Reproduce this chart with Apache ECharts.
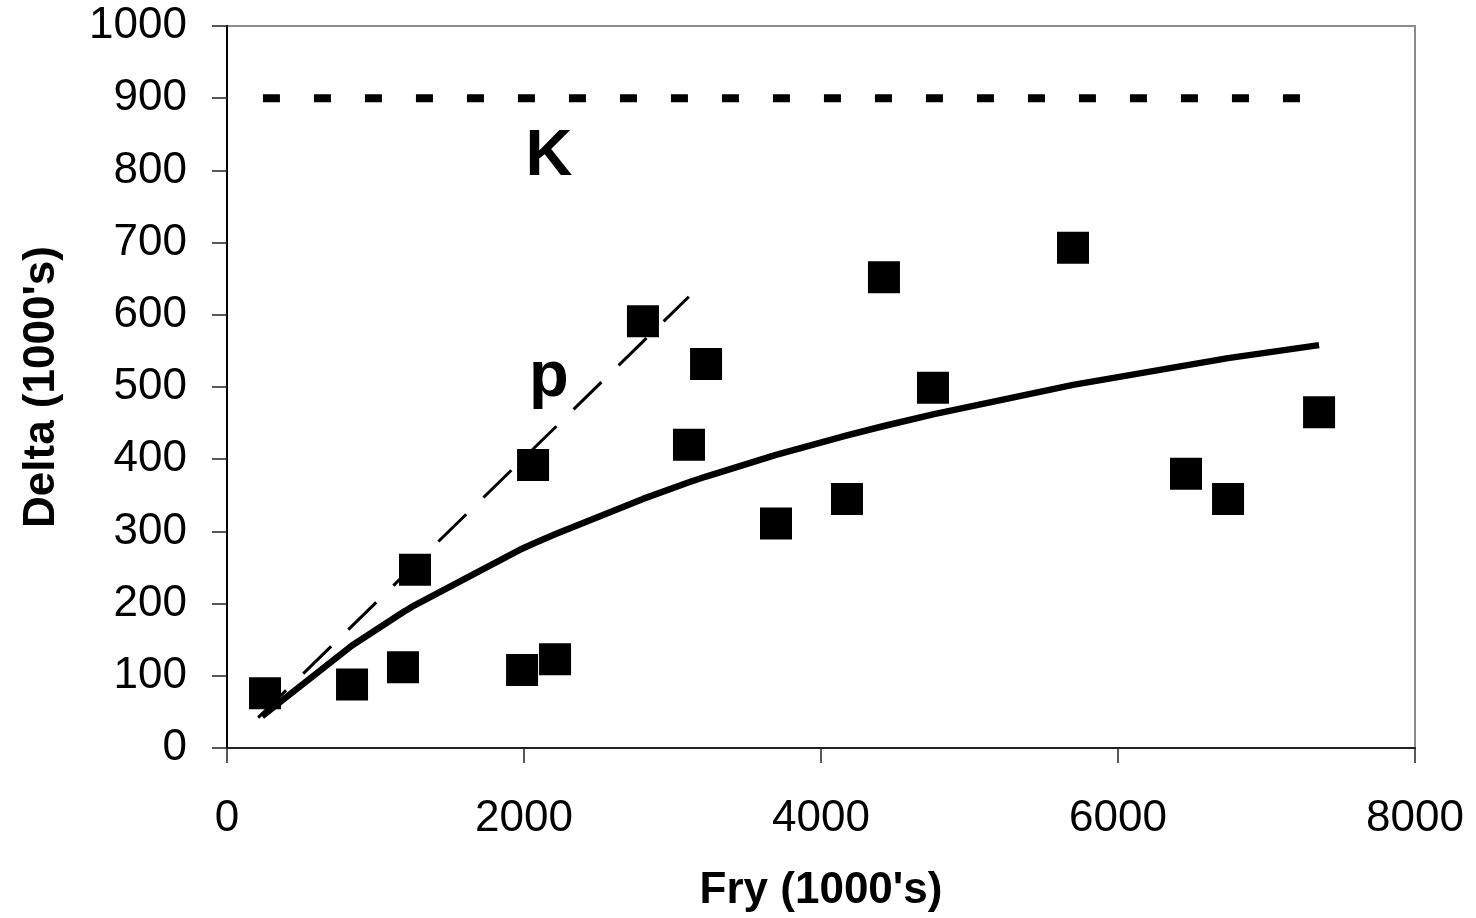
<!DOCTYPE html>
<html>
<head>
<meta charset="utf-8">
<script src="https://cdn.jsdelivr.net/npm/echarts@6/dist/echarts.min.js"></script>
<style>
  html, body { margin: 0; padding: 0; background: #fff; }
  #chart { width: 1476px; height: 918px; }
</style>
</head>
<body>
<div id="chart"></div>
<script>
// Observed points: Fry (1000's) vs Delta (1000's)
const fryObs   = [256, 842, 1185, 1266, 1987, 2209, 2061, 2801, 3111, 3226, 3697, 4175, 4424, 4754, 5697, 6458, 6741, 7354];
const deltaObs = [76, 88, 112, 247, 108, 123, 392, 591, 420, 532, 311, 345, 652, 499, 693, 380, 345, 465];

// Fitted curve (solid)
const curveX = [236, 842, 1185, 1266, 1987, 2061, 2209, 2801, 3111, 3226, 3697, 4175, 4424, 4754, 5697, 6458, 6741, 7354];
const curveY = [44, 142, 188, 198, 276, 283, 296, 345, 368, 376, 406, 433, 446, 462, 503, 530, 540, 558];

// Initial slope line p (dashed)
const pX = [210, 3110];
const pY = [42, 625];

// Capacity line K (dotted)
const kX = [242, 7354];
const kY = [900, 900];

// Text labels
const labelText = ['K', 'p'];
const labelX = [2168, 2168];
const labelY = [818, 512];

const xTicks = [0, 2000, 4000, 6000, 8000];
const yTicks = [0, 100, 200, 300, 400, 500, 600, 700, 800, 900, 1000];

const zip = (a, b) => a.map((v, i) => [v, b[i]]);
const FONT = "'Liberation Sans', Arial, Helvetica, sans-serif";

const chart = echarts.init(document.getElementById('chart'), null, { renderer: 'canvas' });
chart.setOption({
  animation: false,
  backgroundColor: '#ffffff',
  grid: {
    left: 227, right: 61, top: 26, bottom: 168,
    show: true, borderColor: '#8c8c8c', borderWidth: 2, backgroundColor: 'transparent'
  },
  xAxis: {
    type: 'value', min: xTicks[0], max: xTicks[xTicks.length - 1], interval: 2000,
    name: "Fry (1000's)", nameLocation: 'middle', nameGap: 121,
    nameTextStyle: { fontFamily: FONT, fontSize: 44, fontWeight: 'bold', color: '#000' },
    axisLine: { show: true, onZero: false, lineStyle: { color: '#222', width: 2 } },
    axisTick: { show: true, inside: false, length: 15, lineStyle: { color: '#222', width: 1.5 } },
    axisLabel: { fontFamily: FONT, fontSize: 44, color: '#000', margin: 49, formatter: v => String(v) },
    splitLine: { show: false }
  },
  yAxis: {
    type: 'value', min: yTicks[0], max: yTicks[yTicks.length - 1], interval: 100,
    name: "Delta (1000's)", nameLocation: 'middle', nameGap: 163, nameRotate: 90,
    nameTextStyle: { fontFamily: FONT, fontSize: 44, fontWeight: 'bold', color: '#000' },
    axisLine: { show: true, onZero: false, lineStyle: { color: '#000', width: 2 } },
    axisTick: { show: true, inside: false, length: 15, lineStyle: { color: '#222', width: 1.5 } },
    axisLabel: { fontFamily: FONT, fontSize: 44, color: '#000', margin: 40, formatter: v => String(v) },
    splitLine: { show: false }
  },
  series: [
    {
      name: 'K', type: 'line', data: zip(kX, kY), symbol: 'none', z: 3,
      lineStyle: { color: '#000', width: 8, type: [17, 34], cap: 'butt', opacity: 1 }
    },
    {
      name: 'p', type: 'line', data: zip(pX, pY), symbol: 'none', z: 3,
      lineStyle: { color: '#000', width: 3, type: [39, 24], cap: 'butt', opacity: 1 }
    },
    {
      name: 'curve', type: 'line', data: zip(curveX, curveY), symbol: 'none', z: 3,
      lineStyle: { color: '#000', width: 6.5, type: 'solid', join: 'round', opacity: 1 }
    },
    {
      name: 'obs', type: 'scatter', data: zip(fryObs, deltaObs), z: 4,
      symbol: 'rect', symbolSize: 32, itemStyle: { color: '#000', opacity: 1 }
    },
    {
      name: 'labels', type: 'scatter', z: 5, symbolSize: 0,
      itemStyle: { opacity: 1 },
      data: labelText.map((t, i) => ({ value: [labelX[i], labelY[i]], name: t })),
      label: {
        show: true, position: 'inside', formatter: p => p.name,
        fontFamily: FONT, fontSize: 65, fontWeight: 'bold', color: '#000', opacity: 1
      }
    }
  ]
});
</script>
</body>
</html>
